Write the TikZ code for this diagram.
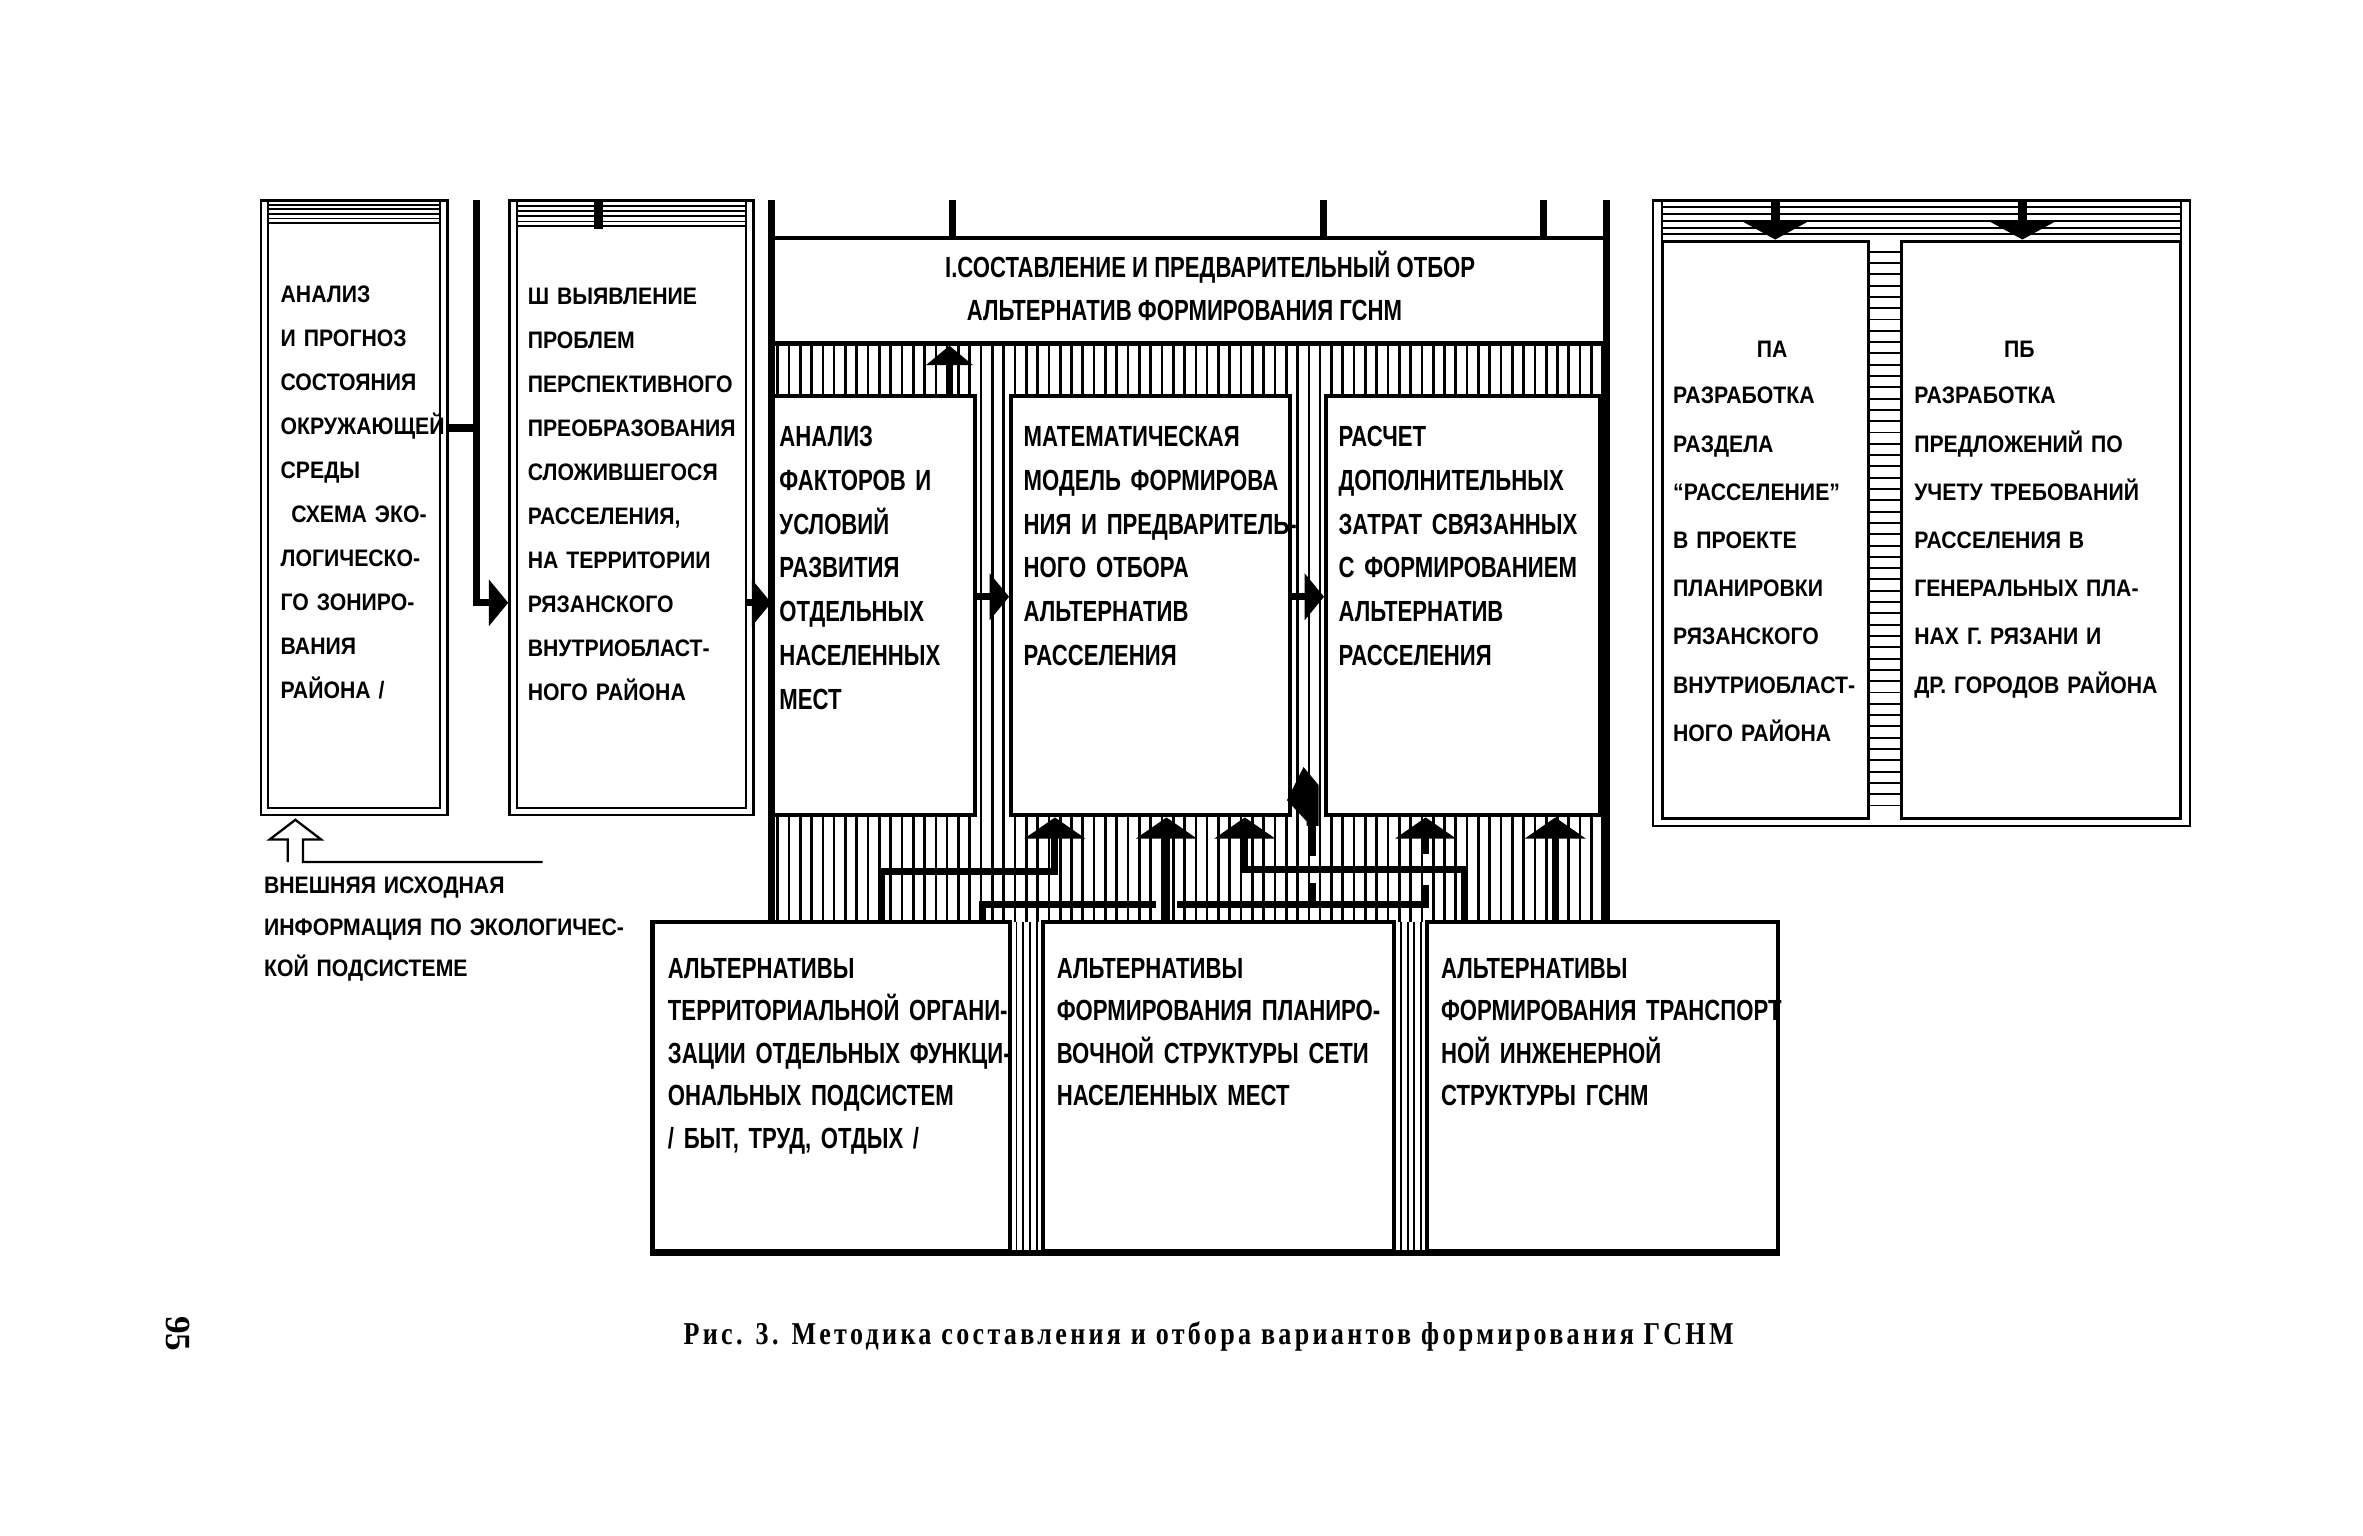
\documentclass[tikz,border=0pt]{standalone}
\usepackage{fontspec}
\setmainfont{Liberation Serif}
\newfontfamily\wsans{Liberation Sans}[FakeStretch=0.89]
\newfontfamily\csans{Liberation Sans}[FakeStretch=0.76]
\newfontfamily\capserif{Liberation Serif}[FakeStretch=0.82,LetterSpace=10.5]
\usetikzlibrary{arrows.meta,fit}
\begin{document}
\begin{tikzpicture}[x=0.03cm,y=-0.03cm,
  dbl/.style={draw,line width=1.3pt,inner sep=0pt,fill=white},
  mbx/.style={draw,line width=1.8pt,inner sep=0pt,fill=white},
  bx/.style={draw,line width=2.4pt,inner sep=0pt,fill=white},
  area/.style={inner sep=0pt},
  frm/.style={line width=4pt},
  conn/.style={line width=4pt,line join=miter},
  hv/.style={line width=1.5pt},
  hh/.style={line width=1.1pt},
  thinl/.style={line width=1.3pt,line join=miter},
  wt/.style={anchor=base west,inner sep=0pt,align=left,text width=6cm,font=\wsans\bfseries\fontsize{13.5pt}{24.9pt}\selectfont},
  wtb/.style={anchor=base west,inner sep=0pt,align=left,text width=7cm,font=\wsans\bfseries\fontsize{13.5pt}{27.3pt}\selectfont},
  wtx/.style={anchor=base west,inner sep=0pt,align=left,text width=9cm,font=\wsans\bfseries\fontsize{13.5pt}{23.5pt}\selectfont},
  wl/.style={anchor=base,inner sep=0pt,font=\wsans\bfseries\fontsize{13.5pt}{14pt}\selectfont},
  ct/.style={anchor=base west,inner sep=0pt,align=left,text width=8cm,font=\csans\bfseries\fontsize{16.5pt}{24.9pt}\selectfont},
  cb/.style={anchor=base west,inner sep=0pt,align=left,text width=8cm,font=\csans\bfseries\fontsize{16.5pt}{24.1pt}\selectfont},
  cc/.style={anchor=base,inner sep=0pt,font=\csans\bfseries\fontsize{16.5pt}{18pt}\selectfont},
  tipS/.style={-{Triangle[length=11pt,width=26pt]}},
  tipB/.style={-{Triangle[length=12pt,width=34pt]}},
  tipD/.style={-{Triangle[length=10pt,width=36pt]}},
]
\useasboundingbox (0,0) rectangle (1568,1019);
\fill[white] (0,0) rectangle (1568,1019);

% ---------- box A ----------
\node[dbl, fit={(173,133) (297,541)}] (A) {};
\node[dbl, fit={(178,148) (292,536)}] (Ai) {};
\draw[hh] (178,133) -- (178,148) (292,133) -- (292,148);
\foreach \y in {136,139,142,145} \draw[hh] (178,\y) -- (292,\y);

% ---------- box B ----------
\node[dbl, fit={(338,133) (500,541)}] (B) {};
\node[dbl, fit={(343,150) (495,536)}] (Bi) {};
\draw[hh] (343,133) -- (343,150) (495,133) -- (495,150);
\foreach \y in {136.5,140,143.5,147} \draw[hh] (343,\y) -- (495,\y);
\draw[line width=5pt] (397,133) -- (397,152);

% ---------- central frame ----------
\node[area, fit={(512,133) (1066,612)}] (M) {};
\foreach \x in {516,523.5,...,1064} \draw[hv] (\x,228) -- (\x,612);
\node[bx, fit={(512,263) (647,541)}] (C) {};
\node[bx, fit={(671,263) (856,541)}] (D) {};
\node[bx, fit={(880,263) (1062,541)}] (E) {};
\node[bx, fit={(512,158) (1066,228)}] (T) {};
\draw[frm] (M.north west) -- (M.south west);
\draw[frm] (M.north east) -- (M.south east);
\foreach \x in {632,878,1024} \draw[frm] (\x,133) -- (\x,158);

% ---------- bottom boxes ----------
\foreach \x in {674.5,679,683.5,688,929.5,934,938.5,943} \draw[hh] (\x,612) -- (\x,830);
\node[bx, fit={(433,612) (670,830)}] (F) {};
\node[bx, fit={(692,612) (925,830)}] (G) {};
\node[bx, fit={(947,612) (1180,830)}] (H) {};
\draw[line width=3pt] (F.south west) -- (H.south east);

% ---------- right group ----------
\node[dbl, fit={(1097,133) (1453,548)}] (R) {};
\node[mbx, fit={(1103,160) (1240,543)}] (PA) {};
\node[mbx, fit={(1262,160) (1447,543)}] (PB) {};
\draw[hh] (1103,133) -- (1103,160) (1447,133) -- (1447,160);
\foreach \y in {137.5,142,146.5,151,155.5} \draw[hh] (1103,\y) -- (1447,\y);
\foreach \y in {167,174.5,...,540} \draw[hh] (1240,\y) -- (1262,\y);
\coordinate (d1) at (1178,133);
\coordinate (d2) at (1342,133);
\draw[conn,line width=5pt,tipD] (d1) -- (PA.north -| d1);
\draw[conn,line width=5pt,tipD] (d2) -- (PB.north -| d2);

% ---------- left bus ----------
\coordinate (busT) at (316,133);
\coordinate (busJ) at (316,284);
\coordinate (busB) at (316,400);
\draw[conn] (A.east |- busJ) -- (busJ);
\draw[conn,tipS] (busT) -- (busB) -- (B.west |- busB);
\draw[conn,tipS] (Bi.east |- busB) -- (M.west |- busB);

% ---------- arrows inside frame ----------
\coordinate (u1) at (630,0);
\coordinate (h1) at (0,396);
\draw[conn,tipS] (C.north -| u1) -- (T.south -| u1);
\draw[conn,tipS] (C.east |- h1) -- (D.west |- h1);
\draw[conn,tipS] (D.east |- h1) -- (E.west |- h1);

% ---------- connectors in bottom band ----------
\coordinate (k1) at (585,578);
\coordinate (k1b) at (700,578);
\draw[conn,tipB] (F.north -| k1) -- (k1) -- (k1b) -- (D.south -| k1b);
\coordinate (k2) at (774,0);
\draw[conn,tipB] (G.north -| k2) -- (D.south -| k2);
\coordinate (k3) at (972,577);
\coordinate (k3b) at (826,577);
\draw[conn,tipB] (H.north -| k3) -- (k3) -- (k3b) -- (D.south -| k3b);
\coordinate (k4) at (652,600);
\coordinate (g1) at (767,600);
\coordinate (g2) at (781,600);
\coordinate (k4b) at (946,600);
\coordinate (g3) at (946,587);
\coordinate (g4) at (946,567);
\draw[conn] (F.north -| k4) -- (k4) -- (g1);
\draw[conn] (g2) -- (k4b) -- (g3);
\draw[conn,tipB] (g4) -- (E.south -| g4);
\coordinate (k5) at (1032,0);
\draw[conn,tipB] (H.north -| k5) -- (E.south -| k5);
% harpoon between D and E
\coordinate (hp) at (871,600);
\coordinate (hq) at (871,586);
\coordinate (hr) at (871,568);
\coordinate (hs) at (871,546);
\draw[conn] (hp) -- (hq);
\draw[conn] (hr) -- (hs);
\fill (865,509) -- (875,521) -- (875,548) -- (867,548) -- (867,545) -- (854,531) -- cycle;

% ---------- external input arrow ----------
\coordinate (xtip) at (196,544);
\coordinate (xend) at (360,572);
\draw[thinl] (xend) -- (201,572) -- (201,557) -- (213,557) -- (xtip) -- (179,557) -- (191,557) -- (191,572);

% ---------- texts ----------
\node[wt] (tA) at (186,201) {АНАЛИЗ\\И ПРОГНОЗ\\СОСТОЯНИЯ\\ОКРУЖАЮЩЕЙ\\СРЕДЫ\\\hspace*{6pt}СХЕМА ЭКО-\\ЛОГИЧЕСКО-\\ГО ЗОНИРО-\\ВАНИЯ\\РАЙОНА /};
\node[wt] (tB) at (350,202) {Ш ВЫЯВЛЕНИЕ\\ПРОБЛЕМ\\ПЕРСПЕКТИВНОГО\\ПРЕОБРАЗОВАНИЯ\\СЛОЖИВШЕГОСЯ\\РАССЕЛЕНИЯ,\\НА ТЕРРИТОРИИ\\РЯЗАНСКОГО\\ВНУТРИОБЛАСТ-\\НОГО РАЙОНА};
\node[cc] (tT1) at (803,184) {I.СОСТАВЛЕНИЕ И ПРЕДВАРИТЕЛЬНЫЙ ОТБОР};
\node[cc] (tT2) at (786,213) {АЛЬТЕРНАТИВ ФОРМИРОВАНИЯ ГСНМ};
\node[ct] (tC) at (517,296) {АНАЛИЗ\\ФАКТОРОВ И\\УСЛОВИЙ\\РАЗВИТИЯ\\ОТДЕЛЬНЫХ\\НАСЕЛЕННЫХ\\МЕСТ};
\node[ct] (tD) at (679,296) {МАТЕМАТИЧЕСКАЯ\\МОДЕЛЬ ФОРМИРОВА\\НИЯ И ПРЕДВАРИТЕЛЬ-\\НОГО ОТБОРА\\АЛЬТЕРНАТИВ\\РАССЕЛЕНИЯ};
\node[ct] (tE) at (888,296) {РАСЧЕТ\\ДОПОЛНИТЕЛЬНЫХ\\ЗАТРАТ СВЯЗАННЫХ\\С ФОРМИРОВАНИЕМ\\АЛЬТЕРНАТИВ\\РАССЕЛЕНИЯ};
\node[cb] (tF) at (443,649) {АЛЬТЕРНАТИВЫ\\ТЕРРИТОРИАЛЬНОЙ ОРГАНИ-\\ЗАЦИИ ОТДЕЛЬНЫХ ФУНКЦИ-\\ОНАЛЬНЫХ ПОДСИСТЕМ\\/ БЫТ, ТРУД, ОТДЫХ /};
\node[cb] (tG) at (701,649) {АЛЬТЕРНАТИВЫ\\ФОРМИРОВАНИЯ ПЛАНИРО-\\ВОЧНОЙ СТРУКТУРЫ СЕТИ\\НАСЕЛЕННЫХ МЕСТ};
\node[cb] (tH) at (956,649) {АЛЬТЕРНАТИВЫ\\ФОРМИРОВАНИЯ ТРАНСПОРТ\\НОЙ ИНЖЕНЕРНОЙ\\СТРУКТУРЫ ГСНМ};
\node[wl] (tPA0) at (1176,237) {ПА};
\node[wtb] (tPA) at (1110,268) {РАЗРАБОТКА\\РАЗДЕЛА\\“РАССЕЛЕНИЕ”\\В ПРОЕКТЕ\\ПЛАНИРОВКИ\\РЯЗАНСКОГО\\ВНУТРИОБЛАСТ-\\НОГО РАЙОНА};
\node[wl] (tPB0) at (1340,237) {ПБ};
\node[wtb] (tPB) at (1270,268) {РАЗРАБОТКА\\ПРЕДЛОЖЕНИЙ ПО\\УЧЕТУ ТРЕБОВАНИЙ\\РАССЕЛЕНИЯ В\\ГЕНЕРАЛЬНЫХ ПЛА-\\НАХ Г. РЯЗАНИ И\\ДР. ГОРОДОВ РАЙОНА};
\node[wtx] (tX) at (175,593) {ВНЕШНЯЯ ИСХОДНАЯ\\ИНФОРМАЦИЯ ПО ЭКОЛОГИЧЕС-\\КОЙ ПОДСИСТЕМЕ};
\node[anchor=base,inner sep=0pt,font=\capserif\bfseries\fontsize{18pt}{20pt}\selectfont] (cap) at (802,892) {Рис. 3. Методика составления и отбора вариантов формирования ГСНМ};
\node[inner sep=0pt,rotate=-90,font=\bfseries\fontsize{20pt}{22pt}\selectfont] (pg) at (118,885) {95};
\end{tikzpicture}
\end{document}
